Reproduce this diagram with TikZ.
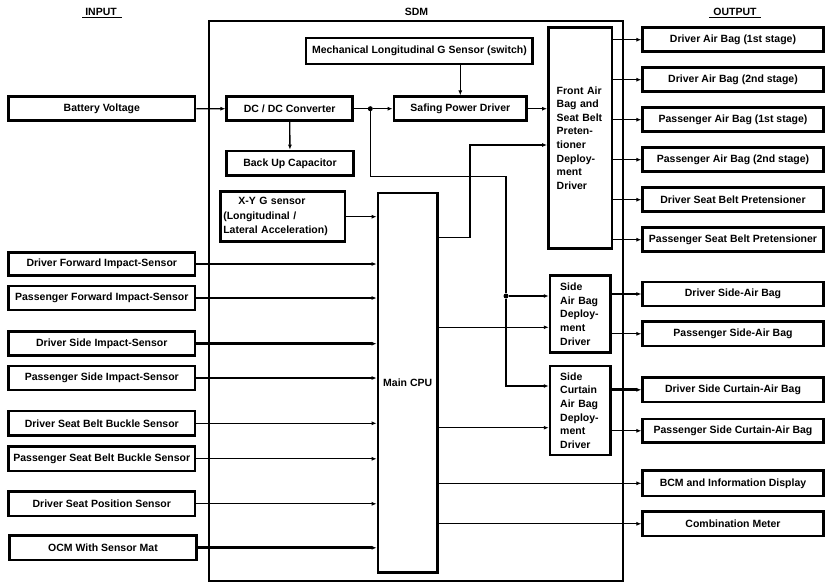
\documentclass[tikz,border=0pt]{standalone}
\usepackage{fontspec}
\setmainfont{Liberation Sans}
\usetikzlibrary{arrows.meta}
\begin{document}
\begin{tikzpicture}[x=1pt,y=-1pt,
  box/.style={draw,line width=2.6pt,inner sep=0pt,align=center,
    font=\bfseries\fontsize{10.5}{13.6}\selectfont},
  lbl/.style={inner sep=0pt,font=\bfseries\fontsize{10.5}{12}\selectfont},
  conn/.style={line width=1.3pt,-{Latex[length=5pt,width=4pt]}},
  thickconn/.style={line width=2.8pt,-{Latex[length=5pt,width=4pt]}},
  wire/.style={line width=1.3pt},
  dot/.style={fill,circle,inner sep=0pt,minimum size=5pt}]
\useasboundingbox (0,0) rectangle (832,588);
% SDM frame
\draw[line width=2pt] (209,21) rectangle (622.7,580.7);
% labels
\node[lbl] (lin) at (101,12) {INPUT};
\node[lbl] (lsdm) at (416.5,12) {SDM};
\node[lbl] (lout) at (735,12) {OUTPUT};
\draw[line width=1pt] (82,18) -- (121.7,18);
\draw[line width=1pt] (709,18) -- (761,18);
% inside SDM
\node[box,minimum width=226.7pt,minimum height=26pt] (mech) at (419.4,51) {Mechanical Longitudinal G Sensor (switch)};
\node[box,minimum width=126pt,minimum height=24pt] (dcdc) at (289.7,108.7) {DC / DC Converter};
\node[box,minimum width=126.6pt,minimum height=24.7pt] (bkup) at (290,163.3) {Back Up Capacitor};
\node[box,minimum width=132.7pt,minimum height=24pt] (safe) at (460.3,108.7) {Safing Power Driver};
\node[box,minimum width=124.3pt,minimum height=50pt,text width=119pt,align=left,
  font=\bfseries\fontsize{10.5}{14.5}\selectfont] (xyg) at (282.8,216.7) {\hspace*{15pt}X-Y G sensor\\(Longitudinal /\\Lateral Acceleration)};
\node[box,minimum width=59.5pt,minimum height=379.5pt] (cpu) at (407.7,382.7) {Main CPU};
\node[box,minimum width=63.7pt,minimum height=220.6pt,text width=47pt,align=left] (fab) at (580.2,138) {Front Air\\Bag and\\Seat Belt\\Preten-\\tioner\\Deploy-\\ment\\Driver};
\node[box,minimum width=60.3pt,minimum height=77pt,text width=40pt,align=left] (sab) at (580.2,314.2) {Side\\Air Bag\\Deploy-\\ment\\Driver};
\node[box,minimum width=60.3pt,minimum height=89pt,text width=40pt,align=left] (scb) at (580.2,410.5) {Side\\Curtain\\Air Bag\\Deploy-\\ment\\Driver};
% inputs
\node[box,minimum width=186.5pt,minimum height=24pt] (bat) at (101.8,108.8) {Battery Voltage};
\node[box,minimum width=186.5pt,minimum height=23.4pt] (i1) at (101.8,264) {Driver Forward Impact-Sensor};
\node[box,minimum width=186.5pt,minimum height=24pt] (i2) at (101.8,298) {Passenger Forward Impact-Sensor};
\node[box,minimum width=186.5pt,minimum height=24pt] (i3) at (101.8,343.7) {Driver Side Impact-Sensor};
\node[box,minimum width=186.5pt,minimum height=24pt] (i4) at (101.8,378) {Passenger Side Impact-Sensor};
\node[box,minimum width=186.5pt,minimum height=24.7pt] (i5) at (101.8,423.3) {Driver Seat Belt Buckle Sensor};
\node[box,minimum width=186.5pt,minimum height=24.3pt] (i6) at (101.8,458.8) {Passenger Seat Belt Buckle Sensor};
\node[box,minimum width=186.5pt,minimum height=24.3pt] (i7) at (101.8,503.8) {Driver Seat Position Sensor};
\node[box,minimum width=187.4pt,minimum height=24.3pt] (i8) at (103,547.8) {OCM With Sensor Mat};
% outputs
\node[box,minimum width=180.6pt,minimum height=24pt] (o1) at (733,39.7) {Driver Air Bag (1st stage)};
\node[box,minimum width=180.6pt,minimum height=24pt] (o2) at (733,79.7) {Driver Air Bag (2nd stage)};
\node[box,minimum width=180.6pt,minimum height=24pt] (o3) at (733,119.7) {Passenger Air Bag (1st stage)};
\node[box,minimum width=180.6pt,minimum height=24pt] (o4) at (733,159.7) {Passenger Air Bag (2nd stage)};
\node[box,minimum width=180.6pt,minimum height=24pt] (o5) at (733,199.7) {Driver Seat Belt Pretensioner};
\node[box,minimum width=180.6pt,minimum height=24pt] (o6) at (733,239.7) {Passenger Seat Belt Pretensioner};
\node[box,minimum width=180.6pt,minimum height=24pt] (o7) at (733,294) {Driver Side-Air Bag};
\node[box,minimum width=180.6pt,minimum height=24.3pt] (o8) at (733,333.8) {Passenger Side-Air Bag};
\node[box,minimum width=180.6pt,minimum height=24.3pt] (o9) at (733,389.8) {Driver Side Curtain-Air Bag};
\node[box,minimum width=180.6pt,minimum height=23.7pt] (o10) at (733,430.8) {Passenger Side Curtain-Air Bag};
\node[box,minimum width=180.6pt,minimum height=25.3pt] (o11) at (733,483.3) {BCM and Information Display};
\node[box,minimum width=180.6pt,minimum height=24.3pt] (o12) at (733,523.8) {Combination Meter};
% power path
\draw[conn] (bat) -- (dcdc);
\node[dot] (j1) at (370.3,108.7) {};
\draw[wire] (dcdc) -- (j1);
\draw[conn] (j1) -- (safe);
\draw[conn] (dcdc) -- (bkup);
\draw[conn] (mech.south -| safe.north) -- (safe.north);
\draw[conn] (safe) -- (safe -| fab.west);
\coordinate (b1) at (370.3,176.7);
\coordinate (b2) at (506,176.7);
\node[dot] (j2) at (506,296) {};
\coordinate (b3) at (506,386);
\draw[wire] (j1) -- (b1) -- (b2) -- (j2);
\draw[conn] (j2) -- (j2 -| sab.west);
\draw[conn] (j2) -- (b3) -- (b3 -| scb.west);
% XY sensor
\draw[conn] (xyg.east) -- (xyg.east -| cpu.west);
% inputs to CPU
\draw[conn] (i1.east) -- (i1.east -| cpu.west);
\draw[thickconn] (i2.east) -- (i2.east -| cpu.west);
\draw[thickconn] (i3.east) -- (i3.east -| cpu.west);
\draw[conn] (i4.east) -- (i4.east -| cpu.west);
\draw[conn] (i5.east) -- (i5.east -| cpu.west);
\draw[conn] (i6.east) -- (i6.east -| cpu.west);
\draw[conn] (i7.east) -- (i7.east -| cpu.west);
\draw[thickconn] (i8.east) -- (i8.east -| cpu.west);
% CPU outputs
\coordinate (c1) at (437.5,237.7);
\coordinate (c2) at (470,237.7);
\coordinate (c3) at (470,145);
\draw[conn] (c1) -- (c2) -- (c3) -- (c3 -| fab.west);
\coordinate (c4) at (437.5,327.3);
\draw[conn] (c4) -- (c4 -| sab.west);
\coordinate (c5) at (437.5,427.7);
\draw[conn] (c5) -- (c5 -| scb.west);
\draw[conn] (o11.west -| cpu.east) -- (o11.west);
\draw[conn] (o12.west -| cpu.east) -- (o12.west);
% front air bag outputs
\foreach \o in {o1,o2,o3,o4,o5,o6}{
  \draw[conn] (\o.west -| fab.east) -- (\o.west);
}
\draw[conn] (o7.west -| sab.east) -- (o7.west);
\draw[conn] (o8.west -| sab.east) -- (o8.west);
\draw[thickconn] (o9.west -| scb.east) -- (o9.west);
\draw[conn] (o10.west -| scb.east) -- (o10.west);
\end{tikzpicture}
\end{document}
